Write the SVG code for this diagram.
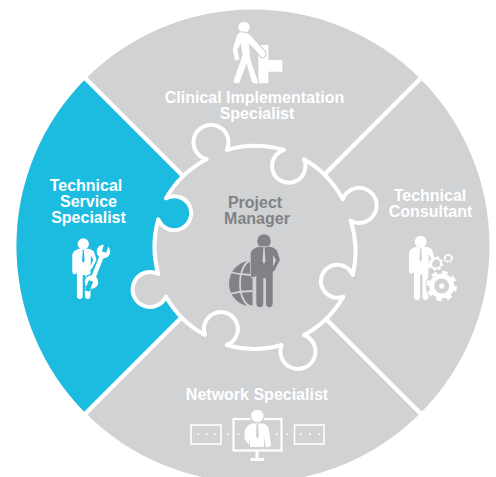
<svg xmlns="http://www.w3.org/2000/svg" xmlns:xlink="http://www.w3.org/1999/xlink" width="496" height="477" viewBox="0 0 496 477">
<style>
.t{font-family:"Liberation Sans",Arial,sans-serif;font-weight:700;font-size:16px;text-anchor:middle;fill:#fff}
.d{fill:#808285}
.w{fill:#fff}
.box{fill:none;stroke:#fff;stroke-width:1.6}
.sep{stroke:#fff;stroke-width:4.5;fill:none}
</style>
<defs>
<clipPath id="globeClip"><rect x="220" y="250" width="32.5" height="65"/></clipPath>
<clipPath id="wheelClip"><circle cx="253" cy="246" r="236.500"/></clipPath>
<g id="man">
<circle r="6.8"/>
<path fill-rule="evenodd" d="M-10.7 8.3Q-13.3 10-13.3 14L-13.3 33Q-13 36.3-10.7 36.3Q-7.9 36.3-7.7 33L-7.700 62.3Q-7.5 66.3-4 66.3Q-.9 66.3-.7 62.3L-.7 37.3L2 37.3L2 62.3Q2.2 66.3 5.3 66.3Q8.5 66.3 8.7 62.3L8.7 30.7L10.3 29.7L16 19L12.7 9Q10.5 6.5 6 5.7L-5.7 5.7ZM9 14L12 19L9 26ZM-1.4 6L-.7 9L-1.6 20L0 23L1.6 20L.7 9L1.4 6L.7 6L0 8.5L-.7 6Z"/>
</g>
</defs>
<g id="wheel">
<circle cx="253" cy="246" r="236.500" fill="#d1d2d4"/>
<path clip-path="url(#wheelClip)" d="M253 246L60 53H0V443H54Z" fill="#1cbce0"/>
</g>
<g id="connectors">
<path class="sep" d="M82 75L253 246M424 75L253 246M82 417L253 246M424 417L253 246"/>
</g>
<g id="project-manager">
<path fill="#d1d2d4" stroke="#fff" stroke-width="4" stroke-linejoin="round" d="M226.7 150A100 100 0 0 1 284 150A16.7 16.7 0 1 0 304 159.3A100 100 0 0 1 342.7 199.3A17.5 17.5 0 1 1 350.7 220.7A100 100 0 0 1 352.7 275A16.5 16.5 0 1 0 343.3 296.7A100 100 0 0 1 304 335A17.5 17.5 0 1 1 281.7 345A100 100 0 0 1 226.7 345A17 17 0 1 0 205 335A100 100 0 0 1 166 296.7A17.5 17.5 0 1 1 158.3 274A100 100 0 0 1 158.3 219.3A17 17 0 1 0 166 198.3A100 100 0 0 1 206.7 159.3A17.5 17.5 0 1 1 226.7 150Z"/>
<text class="t d" x="255" y="207.5">Project</text>
<text class="t d" x="257" y="223.5">Manager</text>
<g clip-path="url(#globeClip)">
<circle cx="252" cy="283.5" r="23" class="d"/>
<g fill="none" stroke="#d1d2d4" stroke-width="1.8">
<ellipse cx="252" cy="283.5" rx="12" ry="23"/>
<path d="M229 272Q252 278 275 272M229 294Q252 288 275 294"/>
</g>
</g>
<use xlink:href="#man" href="#man" x="264" y="241" class="d" stroke="#d1d2d4" stroke-width="1.5" paint-order="stroke"/>
</g>
<g id="clinical-implementation-specialist">
<g transform="translate(150 0) scale(.3333)">
<path class="w" d="M325 135H355V180H397V215H355V250H325Z"/>
<circle class="w" cx="282" cy="82" r="17"/>
<path class="w" stroke="#d1d2d4" stroke-width="7" paint-order="stroke" d="M272 97Q262 100 258 115L248 150L256 182L268 178L262 150L272 130L278 165L250 245Q255 252 268 248L290 190L305 245Q315 255 325 248L300 175L297 130L330 165Q335 178 345 168Q348 155 340 150L300 105Q290 97 272 97Z"/>
</g>
<text class="t" x="254.5" y="102.500">Clinical Implementation</text>
<text class="t" x="257" y="119">Specialist</text>
</g>
<g id="technical-service-specialist">
<text class="t" x="86" y="190.5">Technical</text>
<text class="t" x="88.5" y="206.5">Service</text>
<text class="t" x="88.5" y="222.5">Specialist</text>
<use xlink:href="#man" href="#man" transform="translate(83.3 244) scale(.83)" class="w"/>
<g>
<path stroke="#1cbce0" stroke-width="7" stroke-linecap="round" d="M103 253L92 281"/>
<circle cx="103.500" cy="251.500" r="8" fill="#1cbce0"/>
<circle cx="91.500" cy="282" r="8" fill="#1cbce0"/>
<path stroke="#fff" stroke-width="4.500" stroke-linecap="round" d="M103 253L92 281"/>
<circle class="w" cx="103.500" cy="251.500" r="6.8"/>
<circle class="w" cx="91.500" cy="282" r="6.8"/>
<path stroke="#1cbce0" stroke-width="4.600" d="M104 252L107 243M91 281L87 291"/>
</g>
</g>
<g id="technical-consultant">
<text class="t" x="430" y="201">Technical</text>
<text class="t" x="430.500" y="217">Consultant</text>
<use xlink:href="#man" href="#man" transform="translate(420.7 241.7) scale(.88)" class="w"/>
<g fill="none" stroke="#fff">
<circle cx="441.7" cy="286" r="16" fill="#d1d2d4" stroke="none"/>
<circle cx="441.7" cy="286" r="10" stroke-width="5"/>
<circle cx="441.7" cy="286" r="13.5" stroke-width="3.5" stroke-dasharray="5.3 5.3"/>
<circle cx="436" cy="263.5" r="5" stroke-width="1.8"/>
<circle cx="436" cy="263.5" r="6.4" stroke-width="1.8" stroke-dasharray="2.5 2.5"/>
<circle cx="448.3" cy="258.3" r="3.2" stroke-width="1.2"/>
<circle cx="448.3" cy="258.3" r="4.2" stroke-width="1.2" stroke-dasharray="1.6 1.7"/>
</g>
<circle class="w" cx="441.7" cy="286" r="2.6"/>
</g>
<g id="network-specialist">
<text class="t" x="257" y="399.5">Network Specialist</text>
<rect class="box" x="191" y="425" width="30" height="19"/>
<rect class="box" x="294.5" y="425" width="29.5" height="19"/>
<rect x="233.5" y="419" width="48" height="31.5" fill="none" stroke="#fff" stroke-width="2.2"/>
<path class="w" d="M255.5 450H258.5V458H264V461H250.5V458H255.5Z"/>
<g class="w">
<circle cx="198.3" cy="434.3" r="1"/><circle cx="206.7" cy="434.3" r="1"/><circle cx="215" cy="434.3" r="1"/>
<circle cx="227.7" cy="434.3" r="1"/><circle cx="238.3" cy="434.3" r="1"/>
<circle cx="276.7" cy="434.3" r="1"/><circle cx="287.3" cy="434.3" r="1"/>
<circle cx="300.7" cy="434.3" r="1"/><circle cx="310" cy="434.3" r="1"/><circle cx="319.3" cy="434.3" r="1"/>
</g>
<circle class="w" cx="257.3" cy="416" r="6.2" stroke="#d1d2d4" stroke-width="3" paint-order="stroke"/>
<path class="w" stroke="#d1d2d4" stroke-width="3" paint-order="stroke" d="M251 423.5L263.5 423.5Q268 425 269 430L271 446L266 447.5L264 437L264 447L250 447L250 437L249 445L245 440Q243.500 432 246 428Q248 425 251 423.5ZM256.500 424L256 436L257.500 439L259 436L258 424Z" fill-rule="evenodd"/>
</g>
</svg>
